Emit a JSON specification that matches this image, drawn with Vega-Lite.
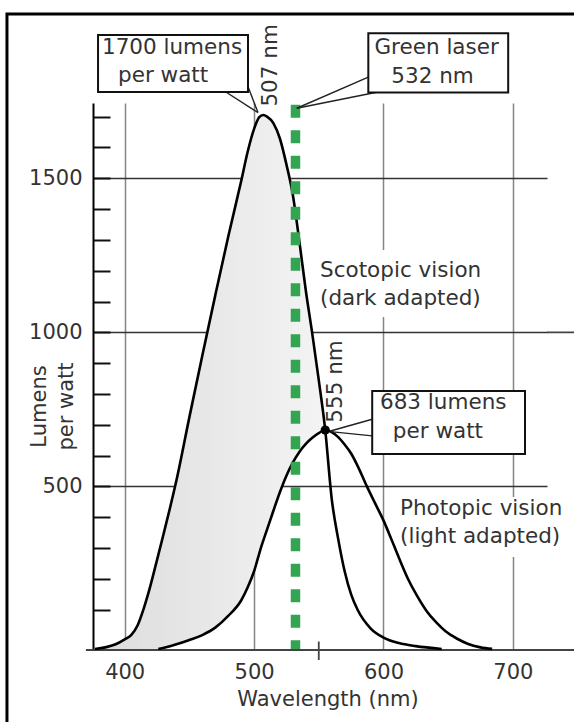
{
  "$schema": "https://vega.github.io/schema/vega-lite/v6.json",
  "width": 454,
  "height": 547,
  "autosize": "none",
  "padding": {"left": 93, "top": 103, "right": 27, "bottom": 72},
  "background": "white",
  "config": {
    "view": {"stroke": null},
    "font": "DejaVu Sans",
    "text": {"font": "DejaVu Sans", "fontSize": 21.5, "color": "#333"}
  },
  "datasets": {
    "scot": [
      {"nm": 377, "lm": -27}, {"nm": 385, "lm": -22}, {"nm": 393, "lm": -12}, {"nm": 400, "lm": 4},
      {"nm": 405, "lm": 18}, {"nm": 410, "lm": 50}, {"nm": 415, "lm": 108}, {"nm": 420, "lm": 180},
      {"nm": 425, "lm": 262}, {"nm": 430, "lm": 345}, {"nm": 435, "lm": 430}, {"nm": 440, "lm": 520},
      {"nm": 450, "lm": 725}, {"nm": 460, "lm": 925}, {"nm": 470, "lm": 1120}, {"nm": 480, "lm": 1310},
      {"nm": 490, "lm": 1490}, {"nm": 495, "lm": 1585}, {"nm": 500, "lm": 1660}, {"nm": 504, "lm": 1698},
      {"nm": 507, "lm": 1705}, {"nm": 510, "lm": 1700}, {"nm": 515, "lm": 1678}, {"nm": 520, "lm": 1628},
      {"nm": 525, "lm": 1545}, {"nm": 530, "lm": 1445}, {"nm": 535, "lm": 1295}, {"nm": 540, "lm": 1135},
      {"nm": 545, "lm": 995}, {"nm": 550, "lm": 845}, {"nm": 555, "lm": 683}, {"nm": 560, "lm": 460},
      {"nm": 565, "lm": 330}, {"nm": 570, "lm": 225}, {"nm": 575, "lm": 150}, {"nm": 580, "lm": 100},
      {"nm": 590, "lm": 40}, {"nm": 600, "lm": 10}, {"nm": 612, "lm": -8}, {"nm": 625, "lm": -18},
      {"nm": 645, "lm": -27}
    ],
    "phot": [
      {"nm": 426, "lm": -27}, {"nm": 435, "lm": -18}, {"nm": 440, "lm": -12}, {"nm": 450, "lm": 2},
      {"nm": 460, "lm": 18}, {"nm": 470, "lm": 42}, {"nm": 480, "lm": 80}, {"nm": 490, "lm": 130},
      {"nm": 495, "lm": 172}, {"nm": 500, "lm": 225}, {"nm": 505, "lm": 297}, {"nm": 510, "lm": 360},
      {"nm": 515, "lm": 422}, {"nm": 520, "lm": 482}, {"nm": 525, "lm": 535}, {"nm": 530, "lm": 578},
      {"nm": 535, "lm": 612}, {"nm": 540, "lm": 638}, {"nm": 545, "lm": 658}, {"nm": 550, "lm": 673},
      {"nm": 555, "lm": 683}, {"nm": 560, "lm": 676}, {"nm": 565, "lm": 660}, {"nm": 570, "lm": 636},
      {"nm": 575, "lm": 607}, {"nm": 580, "lm": 567}, {"nm": 587, "lm": 502}, {"nm": 593, "lm": 450},
      {"nm": 600, "lm": 390}, {"nm": 606, "lm": 330}, {"nm": 612, "lm": 268}, {"nm": 619, "lm": 200},
      {"nm": 626, "lm": 145}, {"nm": 633, "lm": 98}, {"nm": 641, "lm": 58}, {"nm": 648, "lm": 30},
      {"nm": 657, "lm": 6}, {"nm": 665, "lm": -10}, {"nm": 675, "lm": -22}, {"nm": 684, "lm": -27}
    ],
    "shade": [
      {"nm": 377, "upper": -27, "lower": -30}, {"nm": 385, "upper": -22, "lower": -30},
      {"nm": 393, "upper": -12, "lower": -30}, {"nm": 400, "upper": 4, "lower": -30},
      {"nm": 405, "upper": 18, "lower": -30}, {"nm": 410, "upper": 50, "lower": -30},
      {"nm": 415, "upper": 108, "lower": -30}, {"nm": 420, "upper": 180, "lower": -30},
      {"nm": 425, "upper": 262, "lower": -28}, {"nm": 430, "upper": 345, "lower": -23},
      {"nm": 435, "upper": 430, "lower": -18}, {"nm": 440, "upper": 520, "lower": -12},
      {"nm": 450, "upper": 725, "lower": 2}, {"nm": 460, "upper": 925, "lower": 18},
      {"nm": 470, "upper": 1120, "lower": 42}, {"nm": 480, "upper": 1310, "lower": 80},
      {"nm": 490, "upper": 1490, "lower": 130}, {"nm": 495, "upper": 1585, "lower": 172},
      {"nm": 500, "upper": 1660, "lower": 225}, {"nm": 504, "upper": 1698, "lower": 283},
      {"nm": 507, "upper": 1705, "lower": 320}, {"nm": 510, "upper": 1700, "lower": 360},
      {"nm": 515, "upper": 1678, "lower": 422}, {"nm": 520, "upper": 1628, "lower": 482},
      {"nm": 525, "upper": 1545, "lower": 535}, {"nm": 530, "upper": 1445, "lower": 578},
      {"nm": 535, "upper": 1295, "lower": 612}, {"nm": 540, "upper": 1135, "lower": 638},
      {"nm": 545, "upper": 995, "lower": 658}, {"nm": 550, "upper": 845, "lower": 673},
      {"nm": 555, "upper": 683, "lower": 683}
    ],
    "laser": [{"nm": 532, "top": 1738, "bottom": -27}],
    "frame": [{"nm1": 309, "nm2": 900, "lm1": 2033, "lm2": -600}],
    "backs": [
      {"nm1": 547.3, "nm2": 682.6, "lm1": 1267, "lm2": 1050},
      {"nm1": 608.9, "nm2": 760, "lm1": 466, "lm2": 271}
    ],
    "boxes": [
      {"nm1": 379.4, "nm2": 495.3, "lm1": 1965, "lm2": 1780},
      {"nm1": 588.3, "nm2": 696.4, "lm1": 1970, "lm2": 1778},
      {"nm1": 591.3, "nm2": 709.4, "lm1": 810, "lm2": 605.5}
    ],
    "leaders": [
      {"nm1": 478.8, "lm1": 1778, "nm2": 503, "lm2": 1713},
      {"nm1": 495.5, "lm1": 1795, "nm2": 503, "lm2": 1713},
      {"nm1": 588.3, "lm1": 1828, "nm2": 533, "lm2": 1727},
      {"nm1": 594.7, "lm1": 1779, "nm2": 533, "lm2": 1727},
      {"nm1": 591.3, "lm1": 718, "nm2": 559, "lm2": 680},
      {"nm1": 591.3, "lm1": 664, "nm2": 559, "lm2": 678}
    ],
    "rules": [
      {"nm1": 370, "nm2": 800, "lm1": -30.5, "lm2": -30.5},
      {"nm1": 726.4, "nm2": 760, "lm1": 1000, "lm2": 1000},
      {"nm1": 550, "nm2": 550, "lm1": -3, "lm2": -63}
    ],
    "centered": [
      {"label": "1700 lumens", "nm": 436.6, "lm": 1902},
      {"label": "per watt", "nm": 429.7, "lm": 1813},
      {"label": "Green laser", "nm": 641.1, "lm": 1902},
      {"label": "532 nm", "nm": 637.9, "lm": 1808},
      {"label": "683 lumens", "nm": 646.2, "lm": 751.5},
      {"label": "per watt", "nm": 642.1, "lm": 656.4}
    ],
    "lefttext": [
      {"label": "Scotopic vision", "nm": 551, "lm": 1181},
      {"label": "(dark adapted)", "nm": 551, "lm": 1089},
      {"label": "Photopic vision", "nm": 612.8, "lm": 407.5},
      {"label": "(light adapted)", "nm": 612.8, "lm": 316.7}
    ],
    "rotated": [
      {"label": "507 nm", "nm": 517.8, "lm": 1866},
      {"label": "555 nm", "nm": 568, "lm": 840.7}
    ],
    "dot": [{"nm": 555, "lm": 683}]
  },
  "layer": [
    {
      "data": {"name": "shade"},
      "mark": {
        "type": "area",
        "interpolate": "monotone",
        "fill": {"gradient": "linear", "x1": 0, "x2": 1, "y1": 0, "y2": 0,
          "stops": [{"offset": 0, "color": "#dcdcdc"}, {"offset": 1, "color": "#f4f4f4"}]}
      },
      "encoding": {
        "x": {
          "field": "nm", "type": "quantitative",
          "scale": {"domain": [375.5, 726.4], "nice": false, "zero": false},
          "axis": {
            "title": "Wavelength (nm)",
            "values": [400, 500, 600, 700],
            "tickCount": 20,
            "domain": false, "ticks": false,
            "grid": true, "gridColor": "#858585", "gridWidth": 1.5,
            "labelFont": "DejaVu Sans", "labelFontSize": 21, "labelColor": "#333",
            "labelBaseline": "alphabetic", "labelPadding": 28, "labelOverlap": false, "labelFlush": false,
            "titleFont": "DejaVu Sans", "titleFontSize": 21, "titleFontWeight": "normal", "titleColor": "#333",
            "titleBaseline": "alphabetic", "titleAlign": "center", "titleX": 234.5, "titleY": 55.7
          }
        },
        "y": {
          "field": "upper", "type": "quantitative",
          "scale": {"domain": [-30.5, 1744], "nice": false, "zero": false},
          "axis": {
            "title": ["Lumens", "per watt"],
            "values": [100, 200, 300, 400, 500, 600, 700, 800, 900, 1000, 1100, 1200, 1300, 1400, 1500, 1600, 1700],
            "tickCount": 40,
            "labelExpr": "datum.value % 500 === 0 ? datum.label : ''",
            "format": "d",
            "domain": true, "domainColor": "#000", "domainWidth": 2,
            "ticks": true, "tickSize": -17, "tickColor": "#111", "tickWidth": 2,
            "grid": true,
            "gridColor": {"condition": {"test": "datum.value % 500 === 0", "value": "#333"}, "value": "transparent"},
            "gridWidth": 1.5,
            "labelFont": "DejaVu Sans", "labelFontSize": 21, "labelColor": "#333",
            "labelPadding": 28, "labelOverlap": false, "labelFlush": false, "labelBaseline": "middle",
            "titleFont": "DejaVu Sans", "titleFontSize": 21, "titleFontWeight": "normal", "titleColor": "#333",
            "titleAngle": 270, "titleBaseline": "alphabetic", "titleAlign": "center",
            "titleLineHeight": 27, "titleX": -48, "titleY": 303
          }
        },
        "y2": {"field": "lower"}
      }
    },
    {
      "data": {"name": "frame"},
      "mark": {"type": "rect", "fillOpacity": 0, "stroke": "#000", "strokeWidth": 3},
      "encoding": {
        "x": {"field": "nm1", "type": "quantitative"},
        "x2": {"field": "nm2"},
        "y": {"field": "lm1", "type": "quantitative"},
        "y2": {"field": "lm2"}
      }
    },
    {
      "data": {"name": "backs"},
      "mark": {"type": "rect", "fill": "white"},
      "encoding": {
        "x": {"field": "nm1", "type": "quantitative"},
        "x2": {"field": "nm2"},
        "y": {"field": "lm1", "type": "quantitative"},
        "y2": {"field": "lm2"}
      }
    },
    {
      "data": {"name": "rules"},
      "mark": {"type": "rule", "color": "#444", "strokeWidth": 1.8},
      "encoding": {
        "x": {"field": "nm1", "type": "quantitative"},
        "x2": {"field": "nm2"},
        "y": {"field": "lm1", "type": "quantitative"},
        "y2": {"field": "lm2"}
      }
    },
    {
      "data": {"name": "scot"},
      "mark": {"type": "line", "interpolate": "monotone", "color": "#000", "strokeWidth": 2.6},
      "encoding": {
        "x": {"field": "nm", "type": "quantitative"},
        "y": {"field": "lm", "type": "quantitative"}
      }
    },
    {
      "data": {"name": "phot"},
      "mark": {"type": "line", "interpolate": "monotone", "color": "#000", "strokeWidth": 2.6},
      "encoding": {
        "x": {"field": "nm", "type": "quantitative"},
        "y": {"field": "lm", "type": "quantitative"}
      }
    },
    {
      "data": {"name": "laser"},
      "mark": {"type": "rule", "color": "#33a552", "strokeWidth": 9.5, "strokeDash": [13, 12.5]},
      "encoding": {
        "x": {"field": "nm", "type": "quantitative"},
        "y": {"field": "top", "type": "quantitative"},
        "y2": {"field": "bottom"}
      }
    },
    {
      "data": {"name": "leaders"},
      "mark": {"type": "rule", "color": "#222", "strokeWidth": 1.4},
      "encoding": {
        "x": {"field": "nm1", "type": "quantitative"},
        "x2": {"field": "nm2"},
        "y": {"field": "lm1", "type": "quantitative"},
        "y2": {"field": "lm2"}
      }
    },
    {
      "data": {"name": "boxes"},
      "mark": {"type": "rect", "fill": "white", "stroke": "#111", "strokeWidth": 2},
      "encoding": {
        "x": {"field": "nm1", "type": "quantitative"},
        "x2": {"field": "nm2"},
        "y": {"field": "lm1", "type": "quantitative"},
        "y2": {"field": "lm2"}
      }
    },
    {
      "data": {"name": "centered"},
      "mark": {"type": "text", "align": "center", "baseline": "alphabetic"},
      "encoding": {
        "x": {"field": "nm", "type": "quantitative"},
        "y": {"field": "lm", "type": "quantitative"},
        "text": {"field": "label"}
      }
    },
    {
      "data": {"name": "lefttext"},
      "mark": {"type": "text", "align": "left", "baseline": "alphabetic"},
      "encoding": {
        "x": {"field": "nm", "type": "quantitative"},
        "y": {"field": "lm", "type": "quantitative"},
        "text": {"field": "label"}
      }
    },
    {
      "data": {"name": "rotated"},
      "mark": {"type": "text", "align": "center", "baseline": "alphabetic", "angle": 270},
      "encoding": {
        "x": {"field": "nm", "type": "quantitative"},
        "y": {"field": "lm", "type": "quantitative"},
        "text": {"field": "label"}
      }
    },
    {
      "data": {"name": "dot"},
      "mark": {"type": "circle", "color": "#000", "size": 85, "opacity": 1},
      "encoding": {
        "x": {"field": "nm", "type": "quantitative"},
        "y": {"field": "lm", "type": "quantitative"}
      }
    }
  ]
}
